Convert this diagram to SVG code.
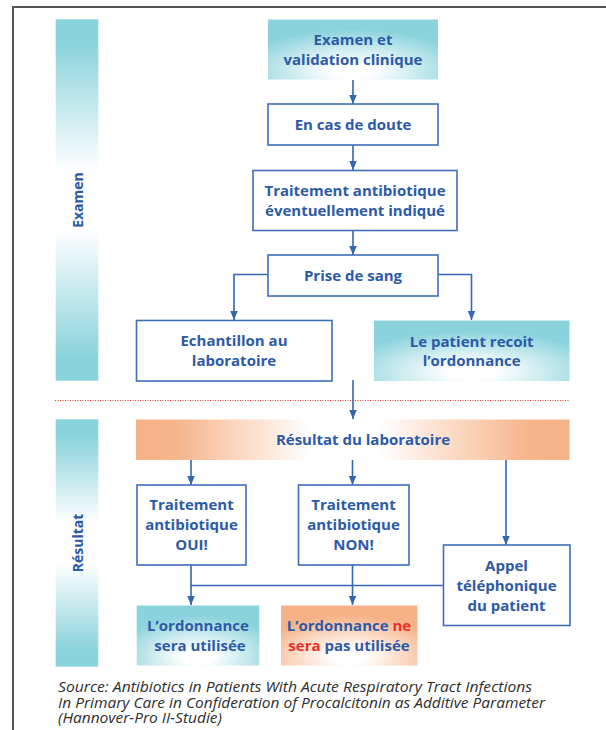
<svg xmlns="http://www.w3.org/2000/svg" width="606" height="730" viewBox="0 0 606 730">
  <defs>
    <style>
      .lbl { font-family: "Open Sans", "Noto Sans", "Liberation Sans", sans-serif; font-weight: 700; font-size: 15px; fill: #2c5aa7; text-anchor: middle; }
      .side { font-family: "Open Sans", "Noto Sans", "Liberation Sans", sans-serif; font-weight: 700; font-size: 14px; fill: #2c5aa7; text-anchor: middle; }
      .box { fill: #ffffff; stroke: #3f6fb9; stroke-width: 1.6; }
      .conn { fill: none; stroke: #3566b2; stroke-width: 1.6; }
      .red { fill: #e8302a; }
      .src { font-family: "Open Sans", "Noto Sans", "Liberation Sans", sans-serif; font-style: italic; font-size: 14px; fill: #2e2e2e; }
    </style>
    <marker id="arr" markerUnits="userSpaceOnUse" markerWidth="10" markerHeight="10" refX="9" refY="3.75" orient="auto">
      <path d="M0,0 L9,3.75 L0,7.5 z" fill="#3566b2"/>
    </marker>
    <linearGradient id="sideGrad" x1="0" y1="0" x2="0" y2="1">
      <stop offset="0" stop-color="#8bd3dc"/>
      <stop offset="0.07" stop-color="#8bd3dc"/>
      <stop offset="0.42" stop-color="#ffffff"/>
      <stop offset="0.58" stop-color="#ffffff"/>
      <stop offset="0.93" stop-color="#8bd3dc"/>
      <stop offset="1" stop-color="#8bd3dc"/>
    </linearGradient>
    <radialGradient id="tealRad" cx="0.5" cy="0.85" r="0.68">
      <stop offset="0" stop-color="#ffffff"/>
      <stop offset="0.18" stop-color="#ffffff"/>
      <stop offset="1" stop-color="#8bd3dc"/>
    </radialGradient>
    <radialGradient id="orangeRad" cx="0.5" cy="0.85" r="0.68">
      <stop offset="0" stop-color="#ffffff"/>
      <stop offset="0.18" stop-color="#ffffff"/>
      <stop offset="1" stop-color="#f6b287"/>
    </radialGradient>
    <linearGradient id="orangeLin" x1="0" y1="0" x2="1" y2="0">
      <stop offset="0" stop-color="#f6b287"/>
      <stop offset="0.1" stop-color="#f6b68c"/>
      <stop offset="0.4" stop-color="#ffffff"/>
      <stop offset="0.56" stop-color="#ffffff"/>
      <stop offset="0.9" stop-color="#f6b68c"/>
      <stop offset="1" stop-color="#f6b287"/>
    </linearGradient>
  </defs>

  <rect width="606" height="730" fill="#ffffff"/>

  <!-- frame -->
  <g id="frame">
    <path d="M13,730 V7 H606" fill="none" stroke="#555555" stroke-width="2"/>
  </g>

  <!-- side bars -->
  <g id="side-examen">
    <rect x="55.7" y="19.3" width="42.6" height="361.4" fill="url(#sideGrad)"/>
    <text class="side" transform="translate(83,200) rotate(-90)">Examen</text>
  </g>
  <g id="side-resultat">
    <rect x="55.7" y="419.3" width="42.6" height="247.4" fill="url(#sideGrad)"/>
    <text class="side" transform="translate(83,543) rotate(-90)">Résultat</text>
  </g>

  <!-- separator -->
  <line x1="55" y1="400.5" x2="569" y2="400.5" stroke="#e8302a" stroke-width="1" stroke-dasharray="1,1.5"/>

  <!-- connectors -->
  <g id="connectors">
    <path class="conn" d="M353,80 V104" marker-end="url(#arr)"/>
    <path class="conn" d="M353,145 V170" marker-end="url(#arr)"/>
    <path class="conn" d="M353,231 V255" marker-end="url(#arr)"/>
    <path class="conn" d="M268,274.5 H234 V320" marker-end="url(#arr)"/>
    <path class="conn" d="M438,274.5 H471.5 V320" marker-end="url(#arr)"/>
    <path class="conn" d="M353,380 V419" marker-end="url(#arr)"/>
    <path class="conn" d="M191,460 V485" marker-end="url(#arr)"/>
    <path class="conn" d="M352.5,460 V485" marker-end="url(#arr)"/>
    <path class="conn" d="M506,460 V545" marker-end="url(#arr)"/>
    <path class="conn" d="M191,565 V605" marker-end="url(#arr)"/>
    <path class="conn" d="M352.5,565 V605" marker-end="url(#arr)"/>
    <path class="conn" d="M191,585.5 H443.5"/>
  </g>

  <!-- nodes -->
  <g id="n-examen">
    <rect x="268" y="19.5" width="170" height="60" fill="url(#tealRad)"/>
    <text class="lbl" x="353" y="45">Examen et</text>
    <text class="lbl" x="353" y="64.5">validation clinique</text>
  </g>
  <g id="n-doute">
    <rect class="box" x="268" y="104" width="170" height="41"/>
    <text class="lbl" x="353" y="130">En cas de doute</text>
  </g>
  <g id="n-traitement">
    <rect class="box" x="253" y="170.5" width="204" height="60"/>
    <text class="lbl" x="355" y="196">Traitement antibiotique</text>
    <text class="lbl" x="355" y="216">éventuellement indiqué</text>
  </g>
  <g id="n-prise">
    <rect class="box" x="268" y="255" width="170" height="41"/>
    <text class="lbl" x="353" y="281">Prise de sang</text>
  </g>
  <g id="n-echantillon">
    <rect class="box" x="136.5" y="320.5" width="195.5" height="60.5"/>
    <text class="lbl" x="234" y="346">Echantillon au</text>
    <text class="lbl" x="234" y="366">laboratoire</text>
  </g>
  <g id="n-patient">
    <rect x="374" y="320.5" width="195.5" height="60.5" fill="url(#tealRad)"/>
    <text class="lbl" x="471.7" y="347">Le patient recoit</text>
    <text class="lbl" x="471.7" y="366">l’ordonnance</text>
  </g>
  <g id="n-resultat">
    <rect x="136" y="419.5" width="433.5" height="40.5" fill="url(#orangeLin)"/>
    <text class="lbl" x="363" y="445">Résultat du laboratoire</text>
  </g>
  <g id="n-oui">
    <rect class="box" x="137" y="485" width="109" height="80"/>
    <text class="lbl" x="191.5" y="510">Traitement</text>
    <text class="lbl" x="191.5" y="530">antibiotique</text>
    <text class="lbl" x="191.5" y="550">OUI!</text>
  </g>
  <g id="n-non">
    <rect class="box" x="298.5" y="485" width="110.5" height="80"/>
    <text class="lbl" x="353.5" y="510">Traitement</text>
    <text class="lbl" x="353.5" y="530">antibiotique</text>
    <text class="lbl" x="353.5" y="550">NON!</text>
  </g>
  <g id="n-appel">
    <rect class="box" x="443.5" y="545" width="126.5" height="80.5"/>
    <text class="lbl" x="506.5" y="571">Appel</text>
    <text class="lbl" x="506.5" y="591">téléphonique</text>
    <text class="lbl" x="506.5" y="610.5">du patient</text>
  </g>
  <g id="n-utilisee">
    <rect x="136.7" y="605.5" width="122.6" height="60" fill="url(#tealRad)"/>
    <text class="lbl" x="198" y="631">L’ordonnance</text>
    <text class="lbl" x="200" y="651">sera utilisée</text>
  </g>
  <g id="n-nonutilisee">
    <rect x="281" y="605.5" width="136.5" height="60" fill="url(#orangeRad)"/>
    <text class="lbl" x="349" y="631">L’ordonnance <tspan class="red">ne</tspan></text>
    <text class="lbl" x="349" y="651"><tspan class="red">sera</tspan> pas utilisée</text>
  </g>

  <!-- source -->
  <g id="source">
    <text class="src" x="58" y="692" textLength="474" lengthAdjust="spacingAndGlyphs">Source: Antibiotics in Patients With Acute Respiratory Tract Infections</text>
    <text class="src" x="58" y="707.5" textLength="487" lengthAdjust="spacingAndGlyphs">In Primary Care in Confideration of Procalcitonin as Additive Parameter</text>
    <text class="src" x="58" y="723" textLength="164" lengthAdjust="spacingAndGlyphs">(Hannover-Pro II-Studie)</text>
  </g>
</svg>
